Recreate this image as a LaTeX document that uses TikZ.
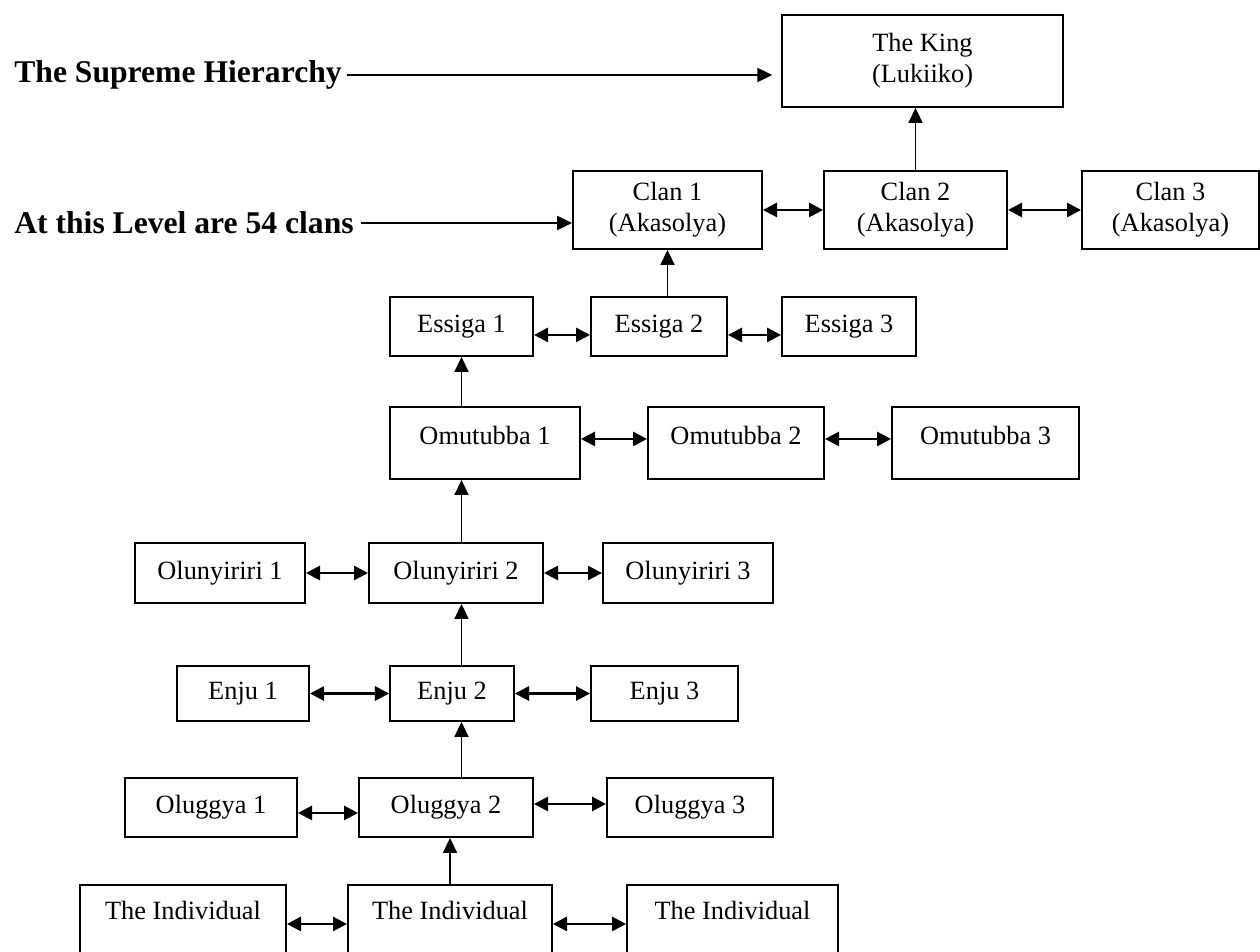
\documentclass[tikz,border=0pt]{standalone}
\usepackage{fontspec}
\setmainfont{Liberation Serif}
\usetikzlibrary{arrows.meta}

\tikzset{
 box/.style={draw,line width=1.1pt,align=center,inner sep=2pt},
 up/.style={-{Triangle[length=8.5pt,width=8pt]},line width=0.8pt},
 link/.style={{Triangle[length=8pt,width=8pt]}-{Triangle[length=8pt,width=8pt]},line width=1.5pt},
 lbl/.style={font=\bfseries\fontsize{18pt}{21pt}\selectfont,inner sep=0pt}
}

\begin{document}
\begin{tikzpicture}[x=0.02cm,y=-0.02cm,font=\fontsize{15pt}{17.5pt}\selectfont]
 \useasboundingbox (0,0) rectangle (1260,952);
 % top of the hierarchy
 \node[box,minimum width=5.62cm,minimum height=1.84cm](king) at (922.5,61) {The King\\(Lukiiko)};
 \node[lbl,anchor=west](sup) at (14,75) {The Supreme Hierarchy};
 \node[lbl,anchor=west](lvl) at (14,223) {At this Level are 54 clans};
 % clans
 \node[box,minimum width=3.78cm,minimum height=1.56cm](clan1) at (667.5,210) {Clan 1\\(Akasolya)};
 \node[box,minimum width=3.66cm,minimum height=1.56cm](clan2) at (915.5,210) {Clan 2\\(Akasolya)};
 \node[box,minimum width=3.54cm,minimum height=1.56cm](clan3) at (1170.5,210) {Clan 3\\(Akasolya)};
 % essiga
 \node[box,minimum width=2.86cm,minimum height=1.18cm](essiga1) at (461.5,326.5) {Essiga 1};
 \node[box,minimum width=2.72cm,minimum height=1.18cm](essiga2) at (659,326.5) {Essiga 2};
 \node[box,minimum width=2.68cm,minimum height=1.18cm](essiga3) at (849,326.5) {Essiga 3};
 % omutubba
 \node[box,minimum width=3.80cm,minimum height=1.44cm,text depth=9pt](omutubba1) at (485,443) {Omutubba 1};
 \node[box,minimum width=3.52cm,minimum height=1.44cm,text depth=9pt](omutubba2) at (736,443) {Omutubba 2};
 \node[box,minimum width=3.74cm,minimum height=1.44cm,text depth=9pt](omutubba3) at (985.5,443) {Omutubba 3};
 % olunyiriri
 \node[box,minimum width=3.40cm,minimum height=1.20cm](olunyiriri1) at (220,573) {Olunyiriri 1};
 \node[box,minimum width=3.48cm,minimum height=1.20cm](olunyiriri2) at (456,573) {Olunyiriri 2};
 \node[box,minimum width=3.40cm,minimum height=1.20cm](olunyiriri3) at (688,573) {Olunyiriri 3};
 % enju
 \node[box,minimum width=2.64cm,minimum height=1.10cm](enju1) at (243,693.5) {Enju 1};
 \node[box,minimum width=2.48cm,minimum height=1.10cm](enju2) at (452,693.5) {Enju 2};
 \node[box,minimum width=2.94cm,minimum height=1.10cm](enju3) at (664.5,693.5) {Enju 3};
 % oluggya
 \node[box,minimum width=3.44cm,minimum height=1.18cm](oluggya1) at (211,807.5) {Oluggya 1};
 \node[box,minimum width=3.48cm,minimum height=1.18cm](oluggya2) at (446,807.5) {Oluggya 2};
 \node[box,minimum width=3.32cm,minimum height=1.18cm](oluggya3) at (690,807.5) {Oluggya 3};
 % individuals
 \node[box,anchor=north,minimum width=4.12cm,minimum height=1.56cm,text depth=15pt](ind1) at (183,884) {The Individual};
 \node[box,anchor=north,minimum width=4.08cm,minimum height=1.56cm,text depth=15pt](ind2) at (450,884) {The Individual};
 \node[box,anchor=north,minimum width=4.22cm,minimum height=1.56cm,text depth=15pt](ind3) at (732.5,884) {The Individual};

 % pointers from the side labels
 \draw[up,line width=1.1pt,shorten >=5pt] ([xshift=3pt]sup.east) -- (king.west |- sup.east);
 \draw[up,line width=1.1pt] ([xshift=4pt]lvl.east) -- (clan1.west |- lvl.east);
 % upward links
 \draw[up] (clan2.north) -- (king.south -| clan2.north);
 \draw[up] (essiga2.north -| clan1.south) -- (clan1.south);
 \draw[up] (omutubba1.north -| essiga1.south) -- (essiga1.south);
 \draw[up] (olunyiriri2.north -| essiga1.south) -- (omutubba1.south -| essiga1.south);
 \draw[up] (enju2.north -| essiga1.south) -- (olunyiriri2.south -| essiga1.south);
 \draw[up] (oluggya2.north -| essiga1.south) -- (enju2.south -| essiga1.south);
 \draw[up] (ind2.north) -- (oluggya2.south -| ind2.north);
 % side links
 \draw[link] (clan1) -- (clan2);
 \draw[link] (clan2) -- (clan3);
 \draw[link] ([yshift=-4.8pt]essiga1.east) -- ([yshift=-4.8pt]essiga2.west);
 \draw[link] ([yshift=-4.8pt]essiga2.east) -- ([yshift=-4.8pt]essiga3.west);
 \draw[link] ([yshift=2.3pt]omutubba1.east) -- ([yshift=2.3pt]omutubba2.west);
 \draw[link] ([yshift=2.3pt]omutubba2.east) -- ([yshift=2.3pt]omutubba3.west);
 \draw[link] (olunyiriri1) -- (olunyiriri2);
 \draw[link] (olunyiriri2) -- (olunyiriri3);
 \draw[link] (enju1) -- (enju2);
 \draw[link] (enju2) -- (enju3);
 \draw[link] ([yshift=-3.1pt]oluggya1.east) -- ([yshift=-3.1pt]oluggya2.west);
 \draw[link] ([yshift=2pt]oluggya2.east) -- ([yshift=2pt]oluggya3.west);
 \draw[link] (ind1) -- (ind2);
 \draw[link] (ind2) -- (ind3);
\end{tikzpicture}
\end{document}
